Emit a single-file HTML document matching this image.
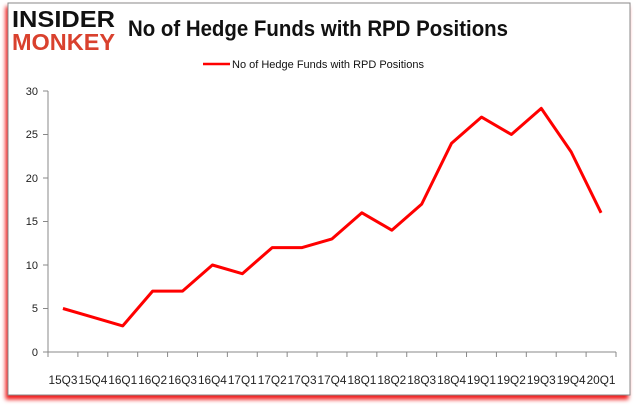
<!DOCTYPE html>
<html><head><style>
body{margin:0;background:#fff;width:637px;height:408px;overflow:hidden}
</style></head><body>
<svg width="637" height="408" xmlns="http://www.w3.org/2000/svg" font-family="Liberation Sans, sans-serif">
<defs><filter id="s" x="-5%" y="-5%" width="110%" height="115%"><feDropShadow dx="-2" dy="4" stdDeviation="2" flood-color="#e00" flood-opacity="0.9"/></filter></defs>
<rect x="8" y="3" width="622" height="392" fill="#fff" stroke="#888" stroke-width="1" filter="url(#s)"/>
<text x="12" y="27" font-size="23" font-weight="bold" fill="#111" textLength="103" lengthAdjust="spacingAndGlyphs">INSIDER</text>
<text x="12" y="50" font-size="23" font-weight="bold" fill="#d9412e" textLength="103" lengthAdjust="spacingAndGlyphs">MONKEY</text>
<text x="128" y="36" font-size="22" fill="#111" font-weight="bold" textLength="380" lengthAdjust="spacingAndGlyphs">No of Hedge Funds with RPD Positions</text>
<line x1="203" y1="64" x2="230" y2="64" stroke="#f00" stroke-width="2.5"/>
<text x="232" y="68" font-size="11" fill="#111">No of Hedge Funds with RPD Positions</text>
<g stroke="#888" stroke-width="1">
<line x1="48" y1="91" x2="48" y2="352"/>
<line x1="48" y1="352" x2="616" y2="352"/>
<line x1="43" y1="91" x2="48" y2="91"/><line x1="43" y1="134.5" x2="48" y2="134.5"/><line x1="43" y1="178" x2="48" y2="178"/><line x1="43" y1="221.5" x2="48" y2="221.5"/><line x1="43" y1="265" x2="48" y2="265"/><line x1="43" y1="308.5" x2="48" y2="308.5"/><line x1="43" y1="352" x2="48" y2="352"/>
</g>
<g font-size="11" fill="#222" text-anchor="end">
<text x="38" y="95">30</text><text x="38" y="138">25</text><text x="38" y="182">20</text><text x="38" y="225">15</text><text x="38" y="269">10</text><text x="38" y="312">5</text><text x="38" y="356">0</text>
</g>
<g id="t" stroke="#888"></g>
<g font-size="12" fill="#222" id="lb"></g>
<polyline id="p" fill="none" stroke="#f00" stroke-width="3" stroke-linejoin="round"/>
</svg>
<script>
var v=[5,4,3,7,7,10,9,12,12,13,16,14,17,24,27,25,28,23,16];
var L=["15Q3","15Q4","16Q1","16Q2","16Q3","16Q4","17Q1","17Q2","17Q3","17Q4","18Q1","18Q2","18Q3","18Q4","19Q1","19Q2","19Q3","19Q4","20Q1"];
var w=568/19,pts=[],t="",lb="";
for(var i=0;i<19;i++){var x=48+w*(i+0.5);pts.push(x+","+(352-v[i]*8.7));
lb+='<text x="'+(48+w*i+0.5)+'" y="384" textLength="'+(w-1)+'" lengthAdjust="spacingAndGlyphs">'+L[i]+'</text>';}
for(var i=0;i<=19;i++){var x=48+w*i;t+='<line x1="'+x+'" y1="352" x2="'+x+'" y2="357"/>';}
document.getElementById("p").setAttribute("points",pts.join(" "));
document.getElementById("t").innerHTML=t;document.getElementById("lb").innerHTML=lb;
</script>
</body></html>
